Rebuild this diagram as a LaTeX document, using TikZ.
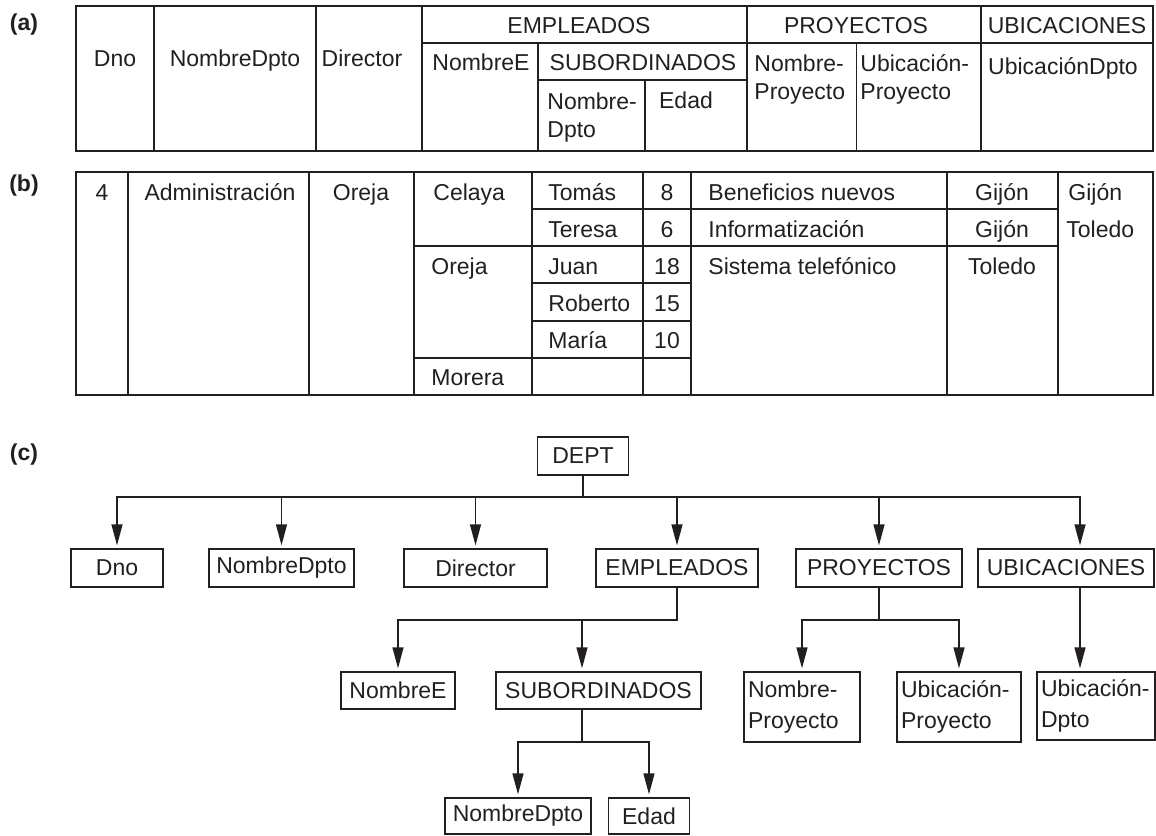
\documentclass[tikz,border=0pt]{standalone}
\usepackage{fontspec}
\setmainfont{Liberation Sans}
\usetikzlibrary{arrows.meta,positioning}
\definecolor{ink}{HTML}{231F20}
\newcommand{\cellfont}{\fontsize{11.5}{14}\selectfont}
\newcommand{\boxfont}{\fontsize{11.5}{15.5}\selectfont}
\tikzset{
  txt/.style={font=\cellfont,text=ink,inner sep=0pt,anchor=base,yshift=-4.1pt},
  ltxt/.style={txt,anchor=base west},
  mtxt/.style={font=\cellfont,text=ink,inner sep=0pt,anchor=north west,align=left},
  tag/.style={txt,font=\cellfont\bfseries},
  rule/.style={draw=ink,line width=0.65pt},
  heavy/.style={draw=ink,line width=1.2pt},
  box/.style={draw=ink,line width=0.65pt,font=\boxfont,text=ink,inner sep=0pt,
              minimum height=19pt},
  twobox/.style={box,align=left,inner xsep=2pt,minimum height=35pt},
  link/.style={draw=ink,line width=0.65pt},
  arr/.style={link,-{Triangle[length=10.5pt,width=5.5pt]},shorten >=1.5pt}
}

\begin{document}
\begin{tikzpicture}[x=0.5pt,y=-0.5pt]
    \path[use as bounding box] (0,0) rectangle (1156,835);

    % (a) header of the nested relation
    \node[tag] (taga) at (24,22) {(a)};
    \draw[rule] (76,6) rectangle (1153,151);
    \foreach \x in {154,316,422,747,981}
      \draw[rule] (\x,6) -- (\x,151);
    \foreach \x in {538,856.5}
      \draw[rule] (\x,43) -- (\x,151);
    \draw[rule] (645,80) -- (645,151);
    \draw[rule] (422,43) -- (1153,43);
    \draw[rule] (538,80) -- (747,80);

    \node[txt] (a-dno) at (115,58) {Dno};
    \node[txt] (a-nomdpto) at (235,58) {NombreDpto};
    \node[txt] (a-director) at (362,58) {Director};
    \node[txt] (a-empleados) at (579,25) {EMPLEADOS};
    \node[txt] (a-proyectos) at (856,25) {PROYECTOS};
    \node[txt] (a-ubicaciones) at (1067,25) {UBICACIONES};
    \node[txt] (a-nombree) at (481,62) {NombreE};
    \node[txt] (a-subord) at (643,62) {SUBORDINADOS};
    \node[mtxt] (a-nomdpto2) at (547,92) {Nombre-\\Dpto};
    \node[txt] (a-edad) at (686,100) {Edad};
    \node[mtxt] (a-nomproy) at (754,54) {Nombre-\\Proyecto};
    \node[mtxt] (a-ubproy) at (860,54) {Ubicación-\\Proyecto};
    \node[txt] (a-ubdpto) at (1063,66) {UbicaciónDpto};

    % (b) one occurrence
    \node[tag] (tagb) at (24,183) {(b)};
    \draw[heavy] (76,172) rectangle (1153,395);
    \foreach \x in {128,309,414,691,1058}
      \draw[heavy] (\x,172) -- (\x,395);
    \foreach \x in {532,643,947}
      \draw[rule] (\x,172) -- (\x,395);
    \draw[rule] (532,209) -- (1058,209);
    \draw[rule] (691,246) -- (1058,246);
    \draw[rule] (532,283) -- (691,283);
    \draw[rule] (532,321) -- (691,321);
    \draw[heavy] (414,246) -- (691,246);
    \draw[heavy] (414,358) -- (691,358);

    \node[txt] (b-dno) at (102,192) {4};
    \node[txt] (b-nomdpto) at (220,192) {Administración};
    \node[txt] (b-director) at (361,192) {Oreja};
    \node[ltxt] (b-emp1) at (433,192) {Celaya};
    \node[ltxt] (b-emp2) at (431,266) {Oreja};
    \node[ltxt] (b-emp3) at (431,377) {Morera};
    \node[ltxt] (b-sub1) at (548,192) {Tomás};
    \node[ltxt] (b-sub2) at (548,229) {Teresa};
    \node[ltxt] (b-sub3) at (548,266) {Juan};
    \node[ltxt] (b-sub4) at (548,303) {Roberto};
    \node[ltxt] (b-sub5) at (548,340) {María};
    \node[txt] (b-edad1) at (667,192) {8};
    \node[txt] (b-edad2) at (667,229) {6};
    \node[txt] (b-edad3) at (667,266) {18};
    \node[txt] (b-edad4) at (667,303) {15};
    \node[txt] (b-edad5) at (667,340) {10};
    \node[ltxt] (b-proy1) at (708,192) {Beneficios nuevos};
    \node[ltxt] (b-proy2) at (708,229) {Informatización};
    \node[ltxt] (b-proy3) at (708,266) {Sistema telefónico};
    \node[txt] (b-ubp1) at (1002,192) {Gijón};
    \node[txt] (b-ubp2) at (1002,229) {Gijón};
    \node[txt] (b-ubp3) at (1002,266) {Toledo};
    \node[ltxt] (b-ubd1) at (1068,192) {Gijón};
    \node[ltxt] (b-ubd2) at (1066,229) {Toledo};

    % (c) tree
    \node[tag] (tagc) at (24,452) {(c)};
    \coordinate (bus1) at (0,497);
    \coordinate (bus2) at (0,620);
    \coordinate (bus3) at (0,742);
    \coordinate (ubx) at (1080,0);
    \coordinate (subx) at (582,0);

    \node[box,minimum width=45.3pt] (dept) at (583,456) {DEPT};
    \node[box,minimum width=46pt] (dno) at (117,568) {Dno};
    \node[box,minimum width=72.5pt] (nomdpto) at (281.5,568) {NombreDpto};
    \node[box,minimum width=71.5pt] (director) at (475.5,568) {Director};
    \node[box,minimum width=81pt] (empleados) at (677,568) {EMPLEADOS};
    \node[box,minimum width=83pt] (proyectos) at (879,568) {PROYECTOS};
    \node[box,minimum width=88pt] (ubicaciones) at (1066,568) {UBICACIONES};
    \node[box,minimum width=57pt,minimum height=18.5pt] (nombree) at (398,690.5) {NombreE};
    \node[box,minimum width=102.5pt,minimum height=18.5pt] (subord) at (598.5,690.5) {SUBORDINADOS};
    \node[twobox,text width=54pt] (nomproy) at (802,707) {Nombre-\\Proyecto};
    \node[twobox,text width=58pt] (ubproy) at (959,707) {Ubicación-\\Proyecto};
    \node[twobox,text width=55pt,minimum height=34pt] (ubdpto) at (1096,706) {Ubicación-\\Dpto};
    \node[box,minimum width=73pt,minimum height=18pt] (nomdpto2) at (518,816) {NombreDpto};
    \node[box,minimum width=40.5pt,minimum height=18pt] (edad) at (649,816) {Edad};

    \foreach \n in {dno,nomdpto,director,empleados,proyectos}
      \draw[arr] (dept.south) -- (dept.south |- bus1) -| (\n.north);
    \draw[arr] (dept.south |- bus1) -| (ubx |- ubicaciones.north);
    \draw[arr] (empleados.south) -- (empleados.south |- bus2) -| (nombree.north);
    \draw[arr] (subx |- bus2) -- (subx |- subord.north);
    \draw[arr] (proyectos.south) -- (proyectos.south |- bus2) -| (nomproy.north);
    \draw[arr] (proyectos.south |- bus2) -| (ubproy.north);
    \draw[arr] (ubx |- ubicaciones.south) -- (ubx |- ubdpto.north);
    \draw[arr] (subx |- subord.south) -- (subx |- bus3) -| (nomdpto2.north);
    \draw[arr] (subx |- bus3) -| (edad.north);
\end{tikzpicture}
\end{document}
